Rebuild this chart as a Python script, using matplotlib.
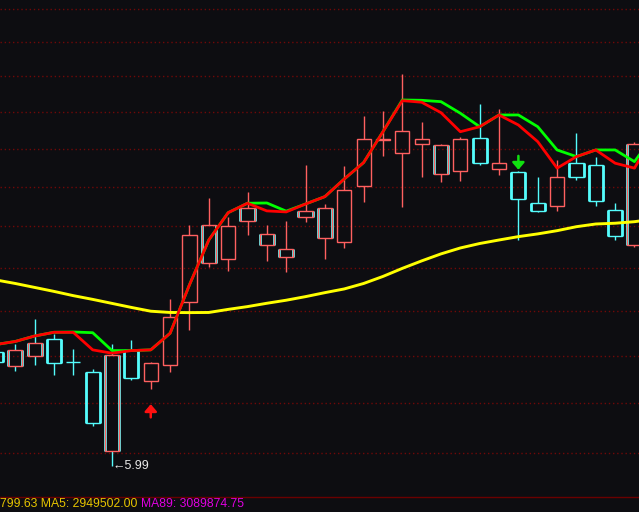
import matplotlib
matplotlib.use("Agg")
import matplotlib.pyplot as plt
from matplotlib.patches import Rectangle
from matplotlib.ticker import FixedLocator, NullLocator, NullFormatter

# ---------------- data ----------------
candle_idx = list(range(-1, 33))
opens  = [6.73, 6.63, 6.70, 6.82, 6.66, 6.59, 6.08, 6.74, 6.53, 6.64, 7.08, 7.37, 7.40, 7.69,
          7.50, 7.41, 7.72, 7.56, 7.53, 7.97, 8.35, 8.24, 8.32, 8.07, 8.09, 8.37, 8.11, 8.08,
          7.83, 7.81, 8.16, 8.14, 7.78, 7.50]
highs  = [6.76, 6.78, 6.96, 6.85, 6.75, 6.61, 6.78, 6.81, 6.66, 7.10, 7.66, 7.87, 7.72, 7.92,
          7.66, 7.69, 8.14, 7.82, 8.13, 8.56, 8.60, 8.93, 8.51, 8.32, 8.38, 8.66, 8.62, 8.09,
          8.04, 8.18, 8.41, 8.21, 7.83, 8.33]
lows   = [6.63, 6.60, 6.64, 6.57, 6.57, 6.24, 5.99, 6.54, 6.48, 6.59, 6.88, 7.34, 7.31, 7.58,
          7.38, 7.30, 7.68, 7.40, 7.48, 7.84, 8.22, 7.80, 8.04, 8.00, 8.01, 8.14, 8.06, 7.54,
          7.76, 7.77, 8.02, 7.81, 7.54, 7.49]
closes = [6.66, 6.74, 6.79, 6.65, 6.66, 6.26, 6.71, 6.55, 6.65, 6.97, 7.58, 7.66, 7.65, 7.79,
          7.59, 7.47, 7.77, 7.79, 7.94, 8.36, 8.36, 8.43, 8.36, 8.31, 8.36, 8.16, 8.16, 7.86,
          7.77, 8.04, 8.04, 7.85, 7.57, 8.32]
styles = ["down", "mixc", "mixc", "down", "down", "down", "mixc", "down", "up", "up", "up",
          "mix", "up", "mix", "mix", "mix", "mix", "mix", "up", "up", "up", "up", "up", "mix",
          "up", "down", "up", "down", "down", "up", "down", "down", "down", "mix"]

line_idx = list(range(-1, 34))
ma_red = [6.780, 6.801, 6.839, 6.865, 6.864, 6.743, 6.720, 6.738, 6.743, 6.858, 7.205, 7.542,
          7.755, 7.830, 7.769, 7.761, 7.824, 7.883, 8.026, 8.161, 8.422, 8.693, 8.679, 8.587,
          8.422, 8.465, 8.567, 8.480, 8.337, 8.115, 8.211, 8.267, 8.156, 8.115, 8.394]
ma_green = [6.780, 6.801, 6.839, 6.865, 6.867, 6.862, 6.738, 6.738, 6.743, 6.858, 7.205, 7.542,
            7.755, 7.830, 7.832, 7.767, 7.824, 7.883, 8.026, 8.161, 8.422, 8.699, 8.696, 8.684,
            8.582, 8.465, 8.567, 8.567, 8.465, 8.267, 8.211, 8.267, 8.267, 8.169, 8.394]
ma89 = [7.241, 7.215, 7.186, 7.157, 7.126, 7.099, 7.070, 7.041, 7.014, 7.005, 7.004, 7.005,
        7.027, 7.047, 7.071, 7.093, 7.119, 7.148, 7.175, 7.215, 7.267, 7.327, 7.383, 7.436,
        7.481, 7.515, 7.542, 7.568, 7.589, 7.614, 7.645, 7.666, 7.672, 7.684, 7.705]

grid_levels = [6.070, 6.386, 6.701, 7.017, 7.332, 7.648, 7.963, 8.279, 8.594, 8.910, 9.225, 9.541]

buy_signals = [7]
sell_signals = [26]

vol_text = "799.63"
ma5_vol = 2949502.00
ma89_vol = 3089874.75

# ---------------- style ----------------
BG = "#0d0d11"
UP_C = "#ff6060"
DN_C = "#54fcfc"
GRID_C = "#700808"

fig = plt.figure(figsize=(6.39, 5.12), dpi=100, facecolor=BG)
ax = fig.add_axes([0, 15 / 512, 1, 497 / 512])
ax.set_facecolor(BG)
ax.set_yscale("log")
ax.set_ylim(5.804, 9.632)
ax.set_xlim(-0.791, 32.233)

ax.yaxis.set_major_locator(FixedLocator(grid_levels))
ax.yaxis.set_minor_locator(NullLocator())
ax.yaxis.set_major_formatter(NullFormatter())
ax.yaxis.set_minor_formatter(NullFormatter())
ax.xaxis.set_major_locator(NullLocator())
ax.tick_params(length=0, labelleft=False, labelbottom=False)
ax.grid(axis="y", color=GRID_C, lw=1.0, linestyle=(0, (1, 2)), zorder=0)
for s in ["top", "left", "right"]:
    ax.spines[s].set_visible(False)
ax.spines["bottom"].set_color("#6a0000")
ax.spines["bottom"].set_linewidth(1.0)

w = 0.73
for k, o, h, l, c, s in zip(candle_idx, opens, highs, lows, closes, styles):
    top, bot = max(o, c), min(o, c)
    if s == "up":
        ec, wc = UP_C, UP_C
    elif s == "down":
        ec, wc = DN_C, DN_C
    elif s == "mixc":
        ec, wc = UP_C, DN_C
    else:
        ec, wc = UP_C, UP_C
    ax.vlines(k, top, h, color=wc, lw=1.0, zorder=2)
    ax.vlines(k, l, bot, color=wc, lw=1.0, zorder=2)
    if s != "up":
        ax.vlines([k - w / 2, k + w / 2], bot, top, color=DN_C, lw=2.0, zorder=3)
    ax.add_patch(Rectangle((k - w / 2, bot), w, top - bot, fill=False, ec=ec, lw=1.0, zorder=4))

ax.plot(line_idx, ma89, color="#ffff00", lw=2.1, zorder=5)
ax.plot(line_idx, ma_green, color="#00ff00", lw=2.0, zorder=6)
ax.plot(line_idx, ma_red, color="#ff0000", lw=2.0, zorder=7)

# signal arrows
for k in buy_signals:
    ax.annotate("", xy=(k, lows[candle_idx.index(k)]), xytext=(0, -20.5), textcoords="offset points",
                arrowprops=dict(arrowstyle="-|>,head_length=0.42,head_width=0.36", color="#ff1010",
                                lw=1.8, shrinkA=0, shrinkB=11, mutation_scale=10), zorder=8)
for k in sell_signals:
    ax.annotate("", xy=(k, highs[candle_idx.index(k)]), xytext=(0, 11), textcoords="offset points",
                arrowprops=dict(arrowstyle="-|>,head_length=0.42,head_width=0.36", color="#10e010",
                                lw=1.8, shrinkA=0, shrinkB=1, mutation_scale=10), zorder=8)

# lowest price marker
low_min = min(lows)
k_min = candle_idx[lows.index(low_min)]
ax.annotate(f"\u2190{low_min:.2f}", xy=(k_min, low_min), xytext=(0, 0), textcoords="offset points",
            ha="left", va="center", color="#e8e8e8", fontsize=9,
            family=["Liberation Sans", "DejaVu Sans"], zorder=9)

# bottom status line
fig.text(0.5 / 639, 1 - 504 / 512, f"{vol_text} MA5: {ma5_vol:.2f}", color="#e6c400", fontsize=8.8,
         ha="left", va="center", family=["Liberation Sans", "DejaVu Sans"])
fig.text(141 / 639, 1 - 504 / 512, f"MA89: {ma89_vol:.2f}", color="#e000e0", fontsize=8.7,
         ha="left", va="center", family=["Liberation Sans", "DejaVu Sans"])

fig.savefig("out.png", dpi=100, facecolor=BG)
